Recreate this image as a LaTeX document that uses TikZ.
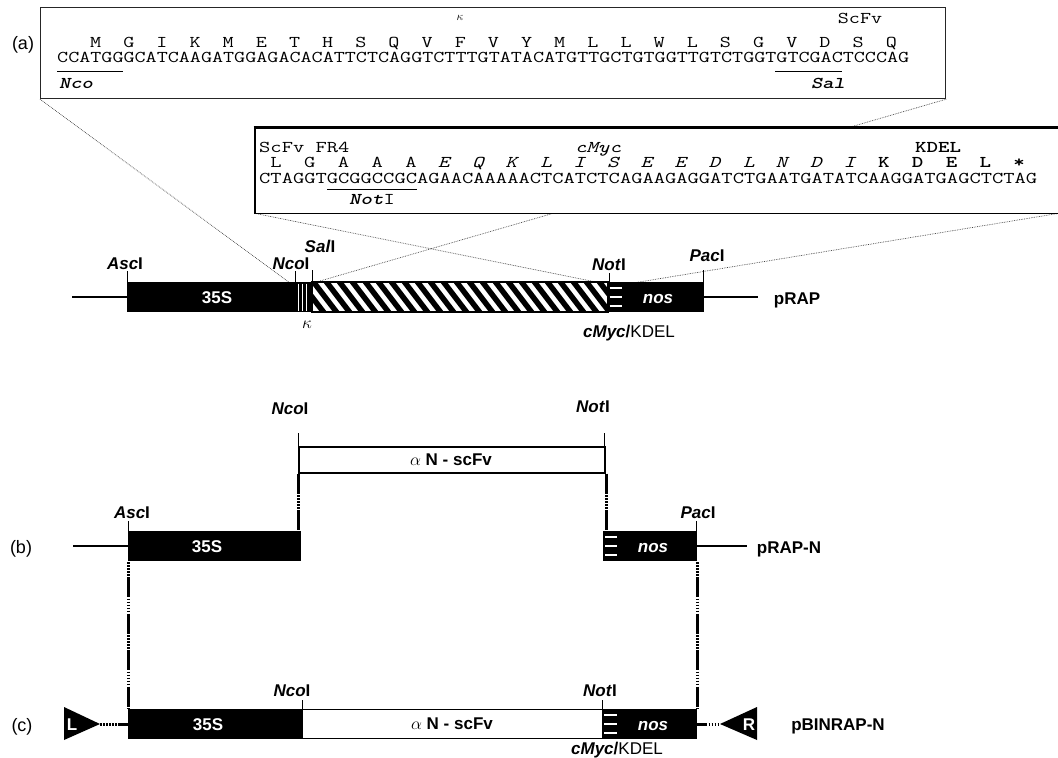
\documentclass[tikz,border=0pt]{standalone}
\usepackage{fontspec}
\setmainfont{Liberation Sans}
\newcommand\myfs[1]{\fontsize{#1}{#1}\selectfont}
\newcommand\sqA[1]{\scalebox{1.3022}[1]{#1}}
\newcommand\sqB[1]{\scalebox{1.3269}[1]{#1}}
\tikzset{
  lbl/.style={inner sep=0pt, text height=12.2pt, text depth=0pt, font=\myfs{17}\bfseries},
  wlbl/.style={lbl, text=white},
  tag/.style={inner sep=0pt, text height=12.5pt, text depth=0pt, font=\myfs{18}},
  seq/.style={inner sep=0pt, text height=10.1pt, text depth=0pt, font=\myfs{16.5}\ttfamily},
  blk/.style={fill=black, draw=black, line width=1.2pt, inner sep=0pt, anchor=west, minimum height=28.8pt},
  wbox/.style={fill=white, draw=black, line width=1.5pt, inner sep=0pt, anchor=west},
  tick/.style={line width=1pt},
  zoomln/.style={densely dotted, line width=0.7pt, black!75},
  joinln/.style={line width=3pt, dash pattern=on 20pt off 1.5pt on 1.5pt off 1.5pt on 1.5pt off 1.5pt on 1.5pt off 1.5pt on 1.5pt off 1.5pt on 1.5pt off 1.5pt},
  wbar/.style={white, line width=2.6pt},
  bb/.style={line width=2pt},
}
\begin{document}
\begin{tikzpicture}[x=1pt,y=-1pt]
\useasboundingbox (0,0) rectangle (1058,758);

% ---------------- (a) ----------------
\node[tag] (la) at (23,43) {(a)};
\node[draw=black!85, line width=1.2pt, minimum width=905pt, minimum height=91pt, anchor=north west, inner sep=0pt] (box1) at (40,7) {};

% zoom target coordinates
\coordinate (zA1) at (290,283);
\coordinate (zA2) at (313,283);
\coordinate (zA3) at (601,283);
\coordinate (zA4) at (633,283);
\node[minimum width=803pt, minimum height=86pt, anchor=north west, inner sep=0pt] (box2) at (255,127) {};
\draw[zoomln] (box1.south west) -- (zA1);
\draw[zoomln] (box1.south east) -- (zA2);
\draw[zoomln] (box2.south west) -- (zA3);
\draw[zoomln] (box2.south east) -- (zA4);
\fill[white] (box2.north west) rectangle (box2.south east);
\draw[line width=3pt] ([xshift=-1.5pt]box2.north west) -- (box2.north east);
\draw[line width=1.2pt] (box2.north west) -- (box2.south west) -- (box2.south east);

% box 1 content
\node[inner sep=0pt, font=\myfs{13}] (kap1) at (460,18) {$\kappa$};
\node[seq] (scfv1) at (860,18) {\sqA{ScFv}};
\foreach \a [count=\i from 0] in {M,G,I,K,M,E,T,H,S,Q,V,F,V,Y,M,L,L,W,L,S,G,V,D,S,Q}
  \node[seq] (aa1-\i) at ({57+(3.5+3*\i)*11.05},42.5) {\sqA{\a}};
\node[seq, anchor=west] (dna1) at (57,57.5) {\sqA{CCATGGGCATCAAGATGGAGACACATTCTCAGGTCTTTGTATACATGTTGCTGTGGTTGTCTGGTGTCGACTCCCAG}};
\draw[line width=0.9pt] (57,71.5) -- (123,71.5);
\draw[line width=0.9pt] (775,71.5) -- (842,71.5);
\node[seq, font=\myfs{16.5}\ttfamily\bfseries\itshape] (nco1) at (76,83) {\sqA{Nco}};
\node[seq, font=\myfs{16.5}\ttfamily\bfseries\itshape] (sal1) at (828,83) {\sqA{Sal}};

% box 2 content
\node[seq, anchor=west] (fr4) at (259,147) {\sqB{ScFv FR4}};
\node[seq] (cmyc2) at (598,147) {\sqB{\textit{cMyc}}};
\node[seq, font=\myfs{16.5}\ttfamily\bfseries] (kdel2) at (938,147) {\sqB{KDEL}};
\foreach \a [count=\i from 0] in {L,G,A,A,A,\textit{E},\textit{Q},\textit{K},\textit{L},\textit{I},\textit{S},\textit{E},\textit{E},\textit{D},\textit{L},\textit{N},\textit{D},\textit{I},\textbf{K},\textbf{D},\textbf{E},\textbf{L},\textbf{*}}
  \node[seq] (aa2-\i) at ({259+(1.5+3*\i)*11.26},162.5) {\sqB{\a}};
\node[seq, anchor=west] (dna2) at (259,178) {\sqB{CTAGGTGCGGCCGCAGAACAAAAACTCATCTCAGAAGAGGATCTGAATGATATCAAGGATGAGCTCTAG}};
\draw[line width=0.9pt] (327,189.5) -- (417,189.5);
\node[seq] (not2) at (372,199.5) {\sqB{\textbf{\textit{Not}}I}};

% pRAP map
\node[blk, minimum width=185pt] (a35) at (127,297) {};
\foreach \xx in {298,302.5,306.5} \draw[white, line width=0.9pt] (\xx,283.5) -- (\xx,310.5);
\node[draw, line width=1.2pt, minimum width=295pt, minimum height=28.8pt, anchor=west, inner sep=0pt] (ahat) at (312,297) {};
\begin{scope}
  \clip (ahat.south west) rectangle (ahat.north east);
  \foreach \i in {-3,...,24} \draw[line width=5.5pt] ({312+13*\i},280) -- ({338+13*\i},314);
\end{scope}
\draw[line width=1.2pt] (ahat.south west) rectangle (ahat.north east);
\node[blk, minimum width=96pt] (anos) at (607,297) {};
\foreach \yy in {288,297,306} \draw[wbar] (609.5,\yy) -- (622,\yy);
\coordinate (aL) at (72,297);
\coordinate (aR) at (758,297);
\draw[bb] (aL) -- (aL -| a35.west);
\draw[bb] (aR -| anos.east) -- (aR);
\node[wlbl] (t35a) at (217,297) {35S};
\node[wlbl] (tnosa) at (658,297) {\textit{nos}};
\draw[tick] (127.5,271) -- (127.5,282);
\draw[tick] (295,271) -- (295,282);
\draw[tick] (312,270) -- (312,282);
\draw[tick] (609,273) -- (609,282);
\draw[tick] (703,270) -- (703,282);
\node[lbl] (ascA) at (125,263) {\textit{Asc}I};
\node[lbl] (ncoA) at (291,263) {\textit{Nco}I};
\node[lbl] (salA) at (320,246) {\textit{Sal}I};
\node[lbl] (notA) at (609,264) {\textit{Not}I};
\node[lbl] (pacA) at (707,255) {\textit{Pac}I};
\node[inner sep=0pt, font=\myfs{17}] (kapA) at (307,325) {$\kappa$};
\node[lbl] (cmA) at (629,331) {\textit{cMyc}/\mdseries KDEL};
\node[lbl] (prap) at (797,298) {pRAP};

% ---------------- (b) ----------------
\node[tag] (lb) at (21,547) {(b)};
\node[blk, minimum width=172pt] (b35) at (128,545.5) {};
\node[blk, minimum width=93pt] (bnos) at (603,545.5) {};
\foreach \yy in {537,546,555} \draw[wbar] (605,\yy) -- (617,\yy);
\node[wbox, line width=2pt, minimum width=306pt, minimum height=26pt] (bsc) at (298,459.5) {};
\node[inner sep=0pt, font=\myfs{17}] (tbsc) at (451,460) {$\alpha$ \textbf{N - scFv}};
\node[wlbl] (t35b) at (207,546) {35S};
\node[wlbl] (tnosb) at (653,546) {\textit{nos}};
\coordinate (bL) at (73,546);
\coordinate (bR) at (747,546);
\draw[bb] (bL) -- (bL -| b35.west);
\draw[bb] (bR -| bnos.east) -- (bR);
\draw[tick] (128,521) -- (128,531);
\draw[tick] (696,521) -- (696,531);
\draw[tick] (298,433) -- (298,446);
\draw[tick] (604,433) -- (604,446);
\node[lbl] (ascB) at (132,512) {\textit{Asc}I};
\node[lbl] (pacB) at (698,512) {\textit{Pac}I};
\node[lbl] (ncoB) at (290,408) {\textit{Nco}I};
\node[lbl] (notB) at (593,406) {\textit{Not}I};
\node[lbl] (prapn) at (789,547) {pRAP-N};
\draw[joinln] (bsc.south west) -- (bsc.south west |- b35.north);
\draw[joinln] (bsc.south east) -- (bsc.south east |- bnos.north);

% ---------------- (c) ----------------
\node[tag] (lc) at (22,725) {(c)};
\node[blk, minimum width=174pt] (c35) at (128,724) {};
\node[wbox, line width=1.2pt, minimum width=300pt, minimum height=28.8pt] (csc) at (302,724) {};
\node[blk, minimum width=94pt] (cnos) at (602,724) {};
\foreach \yy in {715,724,733} \draw[wbar] (604,\yy) -- (617,\yy);
\node[wlbl] (t35c) at (208,724) {35S};
\node[inner sep=0pt, font=\myfs{17}] (tcsc) at (452,724) {$\alpha$ \textbf{N - scFv}};
\node[wlbl] (tnosc) at (653,724) {\textit{nos}};
\draw[tick] (302,700) -- (302,710);
\draw[tick] (602,700) -- (602,710);
\node[lbl] (ncoC) at (292,690) {\textit{Nco}I};
\node[lbl] (notC) at (600,690) {\textit{Not}I};
\node[lbl] (cmC) at (617,748) {\textit{cMyc}/\mdseries KDEL};
% border triangles
\fill (64,707) -- (64,740) -- (100,724) -- cycle;
\coordinate (Lapex) at (100,724);
\node[wlbl] (tL) at (72,724) {L};
\fill (757,707) -- (757,740) -- (720,724) -- cycle;
\coordinate (Rapex) at (720,724);
\node[wlbl] (tR) at (749,724) {R};
\node[lbl] (pbin) at (838,724) {pBINRAP-N};
\draw[line width=3pt, dash pattern=on 10pt off 1.5pt on 1.5pt off 1.5pt on 1.5pt off 1.5pt on 1.5pt off 1.5pt on 1.5pt off 1.5pt on 1.5pt off 1.5pt on 1.5pt off 1.5pt on 1.5pt] (c35.west) -- (Lapex);
\draw[line width=3pt, dash pattern=on 10pt off 1.5pt on 1.5pt off 1.5pt on 1.5pt off 1.5pt on 1.5pt off 1.5pt on 1.5pt off 1.5pt on 1.5pt off 1.5pt on 1.5pt off 1.5pt on 1.5pt] (cnos.east) -- (Rapex);

% joins (b) -> (c)
\draw[joinln, dash phase=20pt] (b35.south west) -- (b35.south west |- c35.north);
\draw[joinln, dash phase=20pt] (bnos.south east) -- (bnos.south east |- cnos.north);
\end{tikzpicture}
\end{document}
